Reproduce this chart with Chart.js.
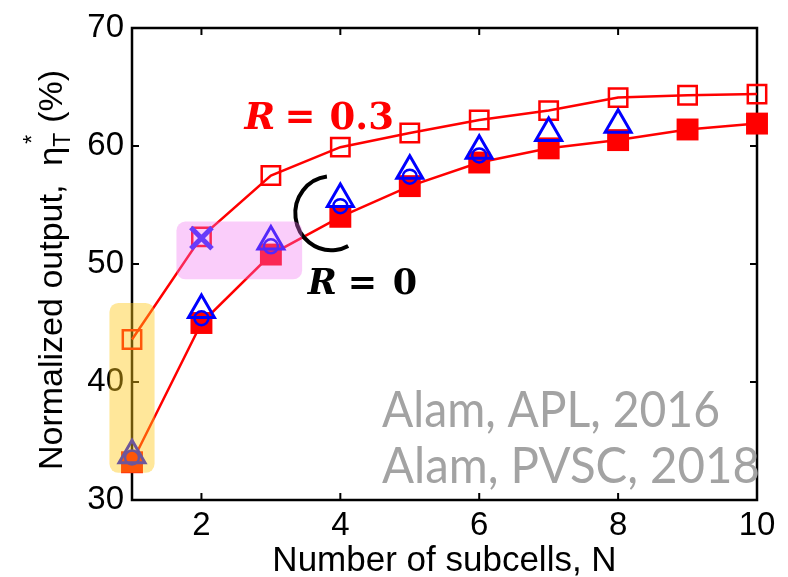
<!DOCTYPE html>
<html>
<head>
<meta charset="utf-8">
<script src="https://cdn.jsdelivr.net/npm/chart.js@4.4.1/dist/chart.umd.min.js"></script>
<style>
  html, body { margin: 0; padding: 0; background: #fff; }
  #wrap { width: 788px; height: 577px; }
</style>
</head>
<body>
<div id="wrap"><canvas id="myChart" width="788" height="577"></canvas></div>
<script>
// values
const subcells = [1, 2, 3, 4, 5, 6, 7, 8, 9, 10];
const outputR03 = [43.6, 52.3, 57.5, 59.9, 61.1, 62.2, 63.0, 64.1, 64.3, 64.4];
const outputR0 = [33.2, 45.0, 50.8, 54.0, 56.6, 58.6, 59.8, 60.5, 61.4, 61.9];
const triangleN = [1, 2, 3, 4, 5, 6, 7, 8];
const triangleOut = [33.8, 46.1, 51.9, 55.5, 57.9, 59.6, 61.1, 61.8];
const circleN = [1, 2, 3, 4, 5, 6];
const circleOut = [33.6, 45.4, 51.5, 54.9, 57.4, 59.2];
const crossN = [2];
const crossOut = [52.2];
const xTicks = [2, 4, 6, 8, 10];
const yTicks = [30, 40, 50, 60, 70];

const toPoints = (xs, ys) => xs.map((x, i) => ({ x, y: ys[i] }));

// axes frame with inward ticks (MATLAB look)
const framePlugin = {
  id: 'frame',
  beforeDatasetsDraw(chart) {
    const { ctx, chartArea: a, scales } = chart;
    ctx.save();
    ctx.strokeStyle = '#000';
    ctx.lineWidth = 2.5;
    ctx.strokeRect(a.left, a.top, a.right - a.left, a.bottom - a.top);
    ctx.lineWidth = 2;
    ctx.beginPath();
    xTicks.forEach((v) => {
      const px = scales.x.getPixelForValue(v);
      if (px > a.right - 2) return;
      ctx.moveTo(px, a.bottom); ctx.lineTo(px, a.bottom - 7);
      ctx.moveTo(px, a.top); ctx.lineTo(px, a.top + 7);
    });
    yTicks.forEach((v) => {
      const py = scales.y.getPixelForValue(v);
      if (py < a.top + 2 || py > a.bottom - 2) return;
      ctx.moveTo(a.left, py); ctx.lineTo(a.left + 7, py);
      ctx.moveTo(a.right, py); ctx.lineTo(a.right - 7, py);
    });
    ctx.stroke();
    ctx.restore();
  },
};

// bracket, highlight boxes, labels
const notesPlugin = {
  id: 'notes',
  afterDatasetsDraw(chart) {
    const { ctx, scales } = chart;
    const X = (v) => scales.x.getPixelForValue(v);
    const Y = (v) => scales.y.getPixelForValue(v);
    ctx.save();

    // curly bracket grouping the R = 0 symbols
    ctx.strokeStyle = '#000';
    ctx.lineWidth = 4;
    ctx.beginPath();
    ctx.ellipse(X(3.87), Y(54.3), 36, 37, 0, -97 * Math.PI / 180, 62 * Math.PI / 180, true);
    ctx.stroke();

    // highlight boxes
    const boxes = [
      { x0: 0.675, x1: 1.325, y0: 46.7, y1: 32.3, color: 'rgba(255, 200, 20, 0.43)' },
      { x0: 1.64, x1: 3.45, y0: 53.6, y1: 48.7, color: 'rgba(240, 112, 240, 0.35)' },
    ];
    boxes.forEach((b) => {
      ctx.fillStyle = b.color;
      ctx.beginPath();
      ctx.roundRect(X(b.x0), Y(b.y0), X(b.x1) - X(b.x0), Y(b.y1) - Y(b.y0), 9);
      ctx.fill();
    });

    // R labels
    ctx.textBaseline = 'alphabetic';
    ctx.textAlign = 'left';
    const rLabel = (x, y, color, value, size) => {
      const px = X(x);
      const py = Y(y);
      ctx.fillStyle = color;
      ctx.font = `italic bold ${size}px "DejaVu Serif"`;
      ctx.fillText('R', px, py);
      ctx.font = `bold ${size}px "DejaVu Serif"`;
      ctx.fillText('=', px + 40, py);
      ctx.fillText(value, px + 85, py);
    };
    rLabel(2.62, 61.4, '#ff0000', '0.3', 37);
    rLabel(3.53, 47.5, '#000000', '0', 35);

    // citation text
    ctx.fillStyle = '#a3a3a3';
    ctx.font = '50px Lato';
    const cite = [
      { text: 'Alam, APL, 2016', y: 36.2, w: 338 },
      { text: 'Alam, PVSC, 2018', y: 31.4, w: 378 },
    ];
    cite.forEach((c) => {
      const m = ctx.measureText(c.text).width;
      ctx.save();
      ctx.translate(X(4.6), Y(c.y));
      ctx.scale(c.w / m, 1);
      ctx.fillText(c.text, 0, 0);
      ctx.restore();
    });
    ctx.restore();
  },
  afterDraw(chart) {
    // y axis title with subscript / superscript
    const { ctx } = chart;
    ctx.save();
    ctx.translate(62, 470);
    ctx.rotate(-Math.PI / 2);
    ctx.fillStyle = '#000';
    ctx.textBaseline = 'alphabetic';
    ctx.textAlign = 'left';
    const main = '34px "Liberation Sans"';
    let x = 0;
    ctx.font = main;
    const t1 = 'Normalized output,  ';
    ctx.fillText(t1, x, 0);
    x += ctx.measureText(t1).width;
    ctx.fillText('η', x, 0);
    x += ctx.measureText('η').width;
    ctx.font = '23px "Liberation Sans"';
    ctx.fillText('T', x, 8);
    ctx.fillText('*', x + 3, -22);
    x += ctx.measureText('T').width + 10;
    ctx.font = main;
    ctx.fillText('(%)', x, 0);
    ctx.restore();
  },
};

const ctx = document.getElementById('myChart').getContext('2d');

const chart = new Chart(ctx, {
  type: 'scatter',
  data: {
    datasets: [
      {
        label: 'cross',
        data: toPoints(crossN, crossOut),
        showLine: false,
        pointStyle: 'crossRot',
        pointRadius: 15,
        pointBorderWidth: 5,
        pointBorderColor: '#2020ff',
        clip: false,
      },
      {
        label: 'triangle',
        data: toPoints(triangleN, triangleOut),
        showLine: false,
        pointStyle: 'triangle',
        pointRadius: 15,
        pointBorderWidth: 3,
        pointBorderColor: '#0000ff',
        pointBackgroundColor: 'rgba(0,0,0,0)',
        clip: false,
      },
      {
        label: 'circle',
        data: toPoints(circleN, circleOut),
        showLine: false,
        pointStyle: 'circle',
        pointRadius: 7,
        pointBorderWidth: 2.5,
        pointBorderColor: '#0000ff',
        pointBackgroundColor: 'rgba(0,0,0,0)',
        clip: false,
      },
      {
        label: 'R = 0',
        data: toPoints(subcells, outputR0),
        showLine: true,
        borderColor: '#ff0000',
        borderWidth: 2.5,
        pointStyle: 'rect',
        pointRadius: 15.5,
        pointBorderWidth: 0,
        pointBorderColor: '#ff0000',
        pointBackgroundColor: '#ff0000',
        clip: false,
      },
      {
        label: 'R = 0.3',
        data: toPoints(subcells, outputR03),
        showLine: true,
        borderColor: '#ff0000',
        borderWidth: 2.5,
        pointStyle: 'rect',
        pointRadius: 13,
        pointBorderWidth: 2.5,
        pointBorderColor: '#ff0000',
        pointBackgroundColor: 'rgba(0,0,0,0)',
        clip: false,
      },
    ],
  },
  plugins: [framePlugin, notesPlugin],
  options: {
    responsive: false,
    animation: false,
    events: [],
    layout: { autoPadding: false, padding: { left: 0, top: 28, right: 31, bottom: 0 } },
    plugins: {
      legend: { display: false },
      tooltip: { enabled: false },
    },
    scales: {
      x: {
        type: 'linear',
        min: 1,
        max: 10,
        afterFit(s) { s.height = 77; },
        afterBuildTicks(s) { s.ticks = xTicks.map((v) => ({ value: v })); },
        grid: { display: false, drawTicks: false },
        border: { display: false },
        ticks: {
          color: '#000',
          padding: 6,
          maxRotation: 0,
          autoSkip: false,
          font: { family: 'Liberation Sans', size: 33 },
        },
        title: {
          display: true,
          text: 'Number of subcells, N',
          color: '#000',
          font: { family: 'Liberation Sans', size: 35 },
          padding: { top: 0, bottom: -5 },
        },
      },
      y: {
        type: 'linear',
        min: 30,
        max: 70,
        afterFit(s) { s.width = 132; },
        afterBuildTicks(s) { s.ticks = yTicks.map((v) => ({ value: v })); },
        grid: { display: false, drawTicks: false },
        border: { display: false },
        ticks: {
          color: '#000',
          padding: 8,
          font: { family: 'Liberation Sans', size: 33 },
        },
      },
    },
  },
});
</script>
</body>
</html>
